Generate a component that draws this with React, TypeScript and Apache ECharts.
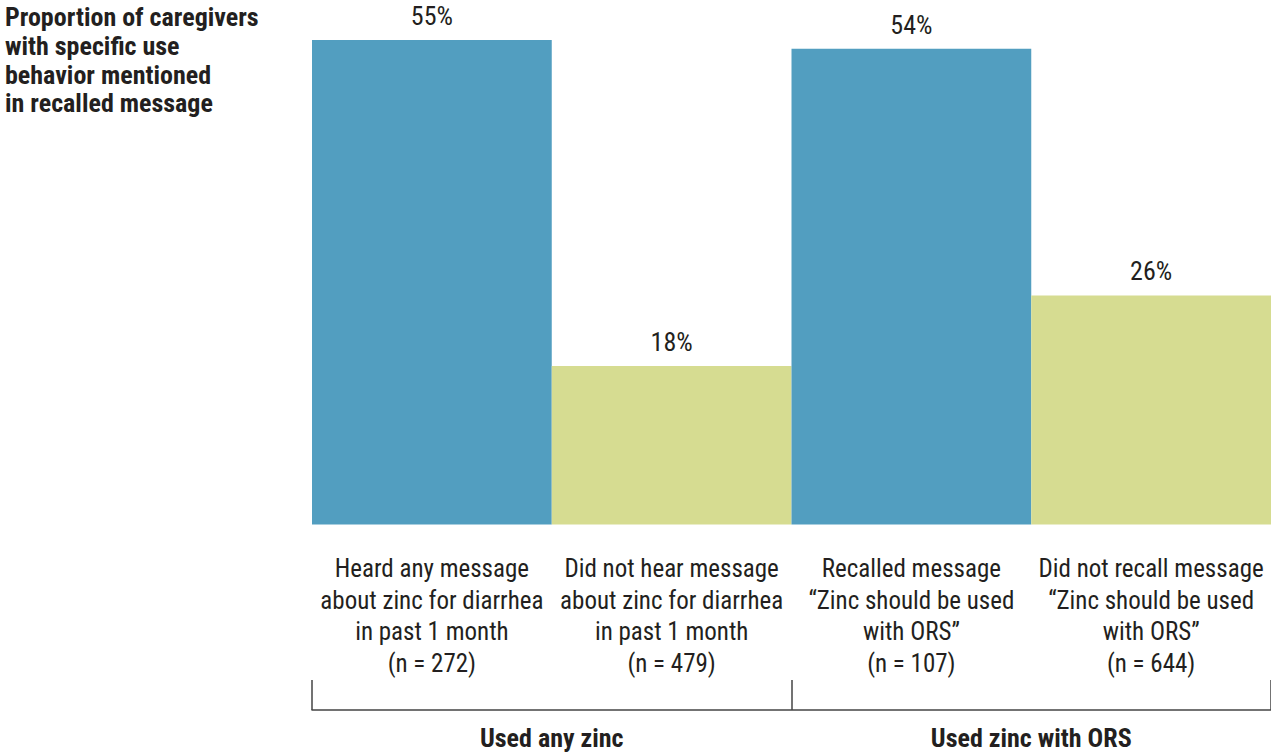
import React, { useEffect, useRef } from "react";
import * as echarts from "echarts";

// Proportion of caregivers by message exposure (percent)
const categories = [
  "Heard any message\nabout zinc for diarrhea\nin past 1 month\n(n = 272)",
  "Did not hear message\nabout zinc for diarrhea\nin past 1 month\n(n = 479)",
  "Recalled message\n\u201cZinc should be used\nwith ORS\u201d\n(n = 107)",
  "Did not recall message\n\u201cZinc should be used\nwith ORS\u201d\n(n = 644)",
];
const values = [55, 18, 54, 26];
const barColors = ["#529EC0", "#D6DC91", "#529EC0", "#D6DC91"];
const groups = ["Used any zinc", "Used zinc with ORS"];
const titleLines = [
  "Proportion of caregivers",
  "with specific use",
  "behavior mentioned",
  "in recalled message",
];

const FONT = '"Liberation Sans Narrow", "Arial Narrow", "Roboto Condensed", "Liberation Sans", Arial, sans-serif';
const TEXT = "#231F20";

export default function App() {
  const ref = useRef<HTMLDivElement>(null);

  useEffect(() => {
    if (!ref.current) return;
    const chart = echarts.init(ref.current, null, { renderer: "svg" });
    chart.setOption({
      animation: false,
      backgroundColor: "#ffffff",
      title: {
        text: titleLines.join("\n"),
        left: 5,
        top: 3,
        padding: 0,
        textStyle: {
          fontFamily: FONT,
          fontWeight: "bold",
          fontSize: 26,
          lineHeight: 28.7,
          color: TEXT,
        },
      },
      grid: { left: 312, right: 0, top: 40, bottom: 228.5 },
      xAxis: [
        {
          type: "category",
          data: categories,
          axisLine: { show: false },
          axisTick: { show: false },
          axisLabel: {
            interval: 0,
            margin: 28,
            fontFamily: FONT,
            fontSize: 25,
            lineHeight: 31.7,
            color: TEXT,
          },
        },
        {
          type: "category",
          data: groups,
          position: "bottom",
          offset: 185.5,
          axisLine: { show: true, lineStyle: { color: "#444", width: 1.5 } },
          axisTick: {
            show: true,
            inside: true,
            length: 30,
            lineStyle: { color: "#444", width: 1.5 },
          },
          axisLabel: {
            interval: 0,
            margin: 15,
            fontFamily: FONT,
            fontWeight: "bold",
            fontSize: 26,
            color: TEXT,
          },
        },
      ],
      yAxis: {
        type: "value",
        min: 0,
        max: 55,
        show: false,
        splitLine: { show: false },
      },
      series: [
        {
          type: "bar",
          xAxisIndex: 0,
          data: values.map((v, i) => ({ value: v, itemStyle: { color: barColors[i] } })),
          barWidth: "100%",
          barCategoryGap: 0,
          label: {
            show: true,
            position: "top",
            distance: 11,
            formatter: "{c}%",
            fontFamily: FONT,
            fontSize: 26,
            color: TEXT,
          },
        },
      ],
    });
    return () => chart.dispose();
  }, []);

  return (
    <div
      ref={ref}
      style={{ position: "absolute", left: 0, top: 0, width: 1271, height: 753 }}
    />
  );
}
